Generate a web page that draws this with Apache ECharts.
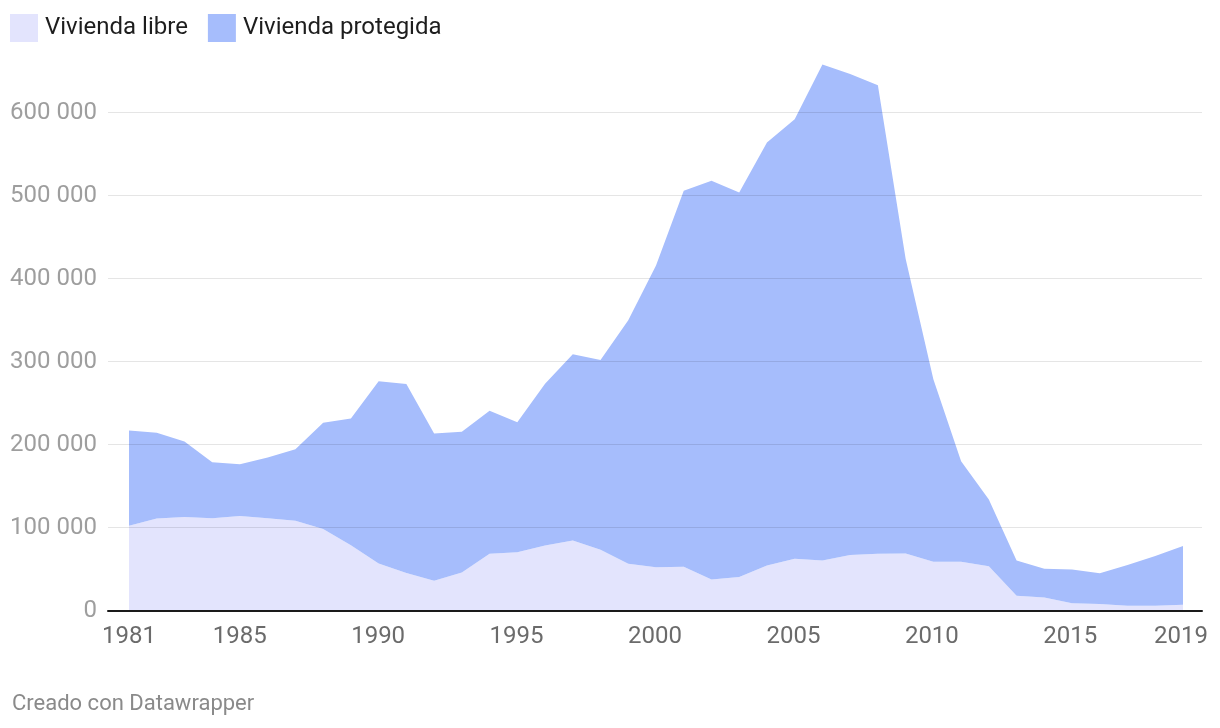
<!DOCTYPE html>
<html>
<head>
<meta charset="utf-8">
<script src="https://cdn.jsdelivr.net/npm/echarts@6/dist/echarts.min.js"></script>
<style>
html,body{margin:0;padding:0;background:#fff;}
#chart{width:1220px;height:728px;}
</style>
</head>
<body>
<div id="chart"></div>
<script>
var years = [1981,1982,1983,1984,1985,1986,1987,1988,1989,1990,1991,1992,1993,1994,1995,1996,1997,1998,1999,2000,
             2001,2002,2003,2004,2005,2006,2007,2008,2009,2010,2011,2012,2013,2014,2015,2016,2017,2018,2019];
var viviendaLibre = [102500,111000,113000,111500,114000,111500,108500,98500,79000,57000,45500,36000,46000,68500,70500,78500,84500,73500,56500,52500,
                     53000,37500,40500,54500,62500,60500,67000,68500,69000,59000,59000,53500,18000,16000,9000,8200,6000,6000,7300];
var viviendaProtegida = [114500,103500,91000,67500,62500,73000,86000,128000,152500,219500,227500,177500,169500,172500,156500,195000,224500,228500,293500,363500,
                         453000,480500,463500,509500,529500,597500,579500,564500,355000,220000,121000,80500,42500,34500,40500,36800,49000,60000,70700];
var xTickLabels = [1981,1985,1990,1995,2000,2005,2010,2015,2019];
var seriesNames = ['Vivienda libre','Vivienda protegida'];
var footerText = 'Creado con Datawrapper';

function fmt(v){ return String(v).replace(/\B(?=(\d{3})+(?!\d))/g, ' '); }

var chart = echarts.init(document.getElementById('chart'), null, {renderer:'canvas'});
var font = 'Roboto, "Noto Sans", sans-serif';
var cLibre = '#e3e4fd', cProt = '#a6bdfc';

chart.setOption({
  backgroundColor:'#ffffff',
  animation:false,
  textStyle:{fontFamily:font},
  legend:{
    left:10, top:14, padding:0, itemWidth:28, itemHeight:28, itemGap:20, icon:'rect',
    data:seriesNames,
    textStyle:{fontSize:24, color:'#1d1d1d', fontFamily:font, padding:[0,0,0,2]}
  },
  grid:[
    {left:129, right:37, top:29.7, bottom:117.3},
    {left:108, right:18, top:112.7, bottom:117.3}
  ],
  xAxis:[
    {gridIndex:0, type:'category', boundaryGap:false, data:years, show:false},
    {gridIndex:1, type:'value', min:1980.243, max:2019.757, z:5,
     axisLine:{show:true, onZero:false, lineStyle:{color:'#1a1a1a', width:2}},
     axisTick:{show:false},
     splitLine:{show:false},
     axisLabel:{customValues:xTickLabels, color:'#6b6b6b', fontSize:24, margin:14, fontFamily:font,
                formatter:function(v){return String(v);}}
    }
  ],
  yAxis:[
    {gridIndex:0, type:'value', min:0, max:700000, show:false},
    {gridIndex:1, type:'value', min:0, max:600000, interval:100000, z:5,
     axisLine:{show:false}, axisTick:{show:false},
     splitLine:{show:true, lineStyle:{color:'rgba(0,0,0,0.1)', width:1}},
     axisLabel:{color:'#9e9e9e', fontSize:24, margin:11, fontFamily:font, formatter:function(v){return fmt(v);}}
    }
  ],
  series:[
    {name:seriesNames[0], type:'line', xAxisIndex:0, yAxisIndex:0, stack:'total', z:2,
     data:viviendaLibre, symbol:'none', lineStyle:{width:0}, color:cLibre,
     itemStyle:{color:cLibre}, areaStyle:{color:cLibre, opacity:1}},
    {name:seriesNames[1], type:'line', xAxisIndex:0, yAxisIndex:0, stack:'total', z:2,
     data:viviendaProtegida, symbol:'none', lineStyle:{width:0}, color:cProt,
     itemStyle:{color:cProt}, areaStyle:{color:cProt, opacity:1}}
  ],
  graphic:[
    {type:'text', left:12, top:693, style:{text:footerText, fill:'#8a8a8a', fontSize:22, fontFamily:font}}
  ]
});
</script>
</body>
</html>
